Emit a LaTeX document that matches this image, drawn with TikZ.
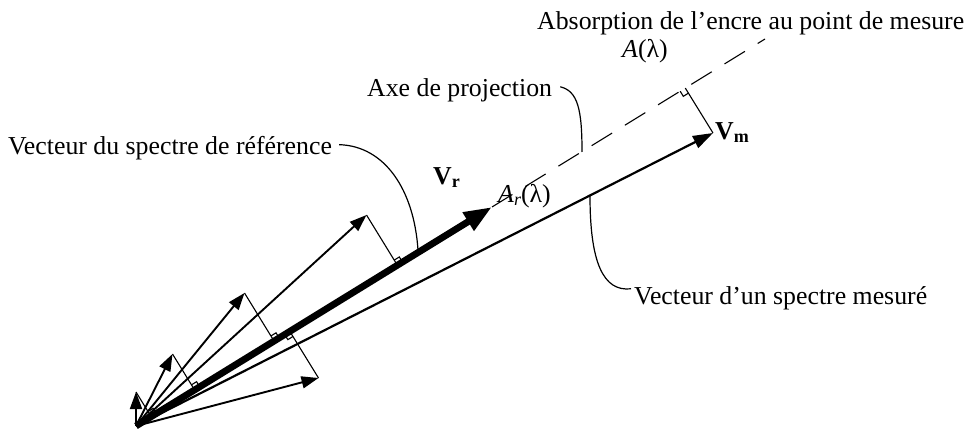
\documentclass[tikz,border=0pt]{standalone}
\usepackage{fontspec}
\setmainfont{Liberation Serif}
\usetikzlibrary{calc,arrows.meta}
\newcommand\rmark[2]{%
  \coordinate (m1) at ($(#1)!6pt!(#2)$);
  \coordinate (m3) at ($(#1)!6pt!-90:(#2)$);
  \draw[perp] (m1) -- ($(m1)+(m3)-(#1)$) -- (m3);}
\begin{document}
\begin{tikzpicture}[x=1pt,y=-1pt,
  vec/.style={line width=1.9pt,-{Triangle[length=17pt,width=12pt]}},
  perp/.style={line width=1.1pt},
  lead/.style={line width=1.2pt},
  lbl/.style={anchor=base west,inner sep=0pt,font=\fontsize{25.8}{30}\selectfont}]
\useasboundingbox (0,0) rectangle (968,430);
\coordinate (O) at (136,426);
\coordinate (R) at (492,207);
\coordinate (D) at (765,39);
\coordinate (M) at (713,133);
\coordinate (a1) at (136,392);
\coordinate (a2) at (172.5,354);
\coordinate (a3) at (244.5,293);
\coordinate (a4) at (366.5,215);
\coordinate (a5) at (318.5,378);
\foreach \p in {a1,a2,a3,a4,a5} {
  \coordinate (f\p) at ($(O)!(\p)!(R)$);
  \draw[perp] (\p) -- (f\p);
  \rmark{f\p}{\p}
  \draw[vec] (O) -- (\p);
}
\coordinate (fM) at ($(O)!(M)!(D)$);
\draw[dash pattern=on 24pt off 15pt, line width=1.1pt] (R) -- (D);
\draw[perp] (M) -- (fM);
\rmark{fM}{M}
\draw[line width=2.2pt,-{Triangle[length=20pt,width=13pt]}] (O) -- (M);
\draw[line width=6.8pt,-{Triangle[length=28pt,width=20pt]}] (O) -- (R);

% labels
\node[lbl] (absorb) at (537,30) {Absorption de l'encre au point de mesure};
\node[lbl] (Al) at (622,58) {\textit{A}(λ)};
\node[lbl] (axe) at (367,97) {Axe de projection};
\node[lbl] (vref) at (8,155) {Vecteur du spectre de référence};
\node[lbl] (vmes) at (634,304) {Vecteur d'un spectre mesuré};
\node[lbl] (Vr) at (433,185) {\textbf{V}{\fontsize{18}{20}\selectfont\raisebox{-0.35ex}{\textbf{r}}}};
\node[lbl] (Ar) at (498,203) {\textit{A}{\fontsize{18}{20}\selectfont\raisebox{-0.35ex}{\textit{r}}}(λ)};
\node[lbl] (Vm) at (715,140) {\textbf{V}{\fontsize{18}{20}\selectfont\raisebox{-0.35ex}{\textbf{m}}}};

% leaders
\coordinate (lr) at (418,250);
\coordinate (la) at (582,152);
\coordinate (lm) at (590,196);
\draw[lead] (vref.east) ++(7,-4) .. controls (385,146) and (414,190) .. (lr);
\draw[lead] (axe.east) ++(8,-4) .. controls (578,91) and (582,110) .. (la);
\draw[lead] (lm) .. controls (590,262) and (603,292) .. ($(vmes.west)+(-3,-9)$);
\end{tikzpicture}
\end{document}
